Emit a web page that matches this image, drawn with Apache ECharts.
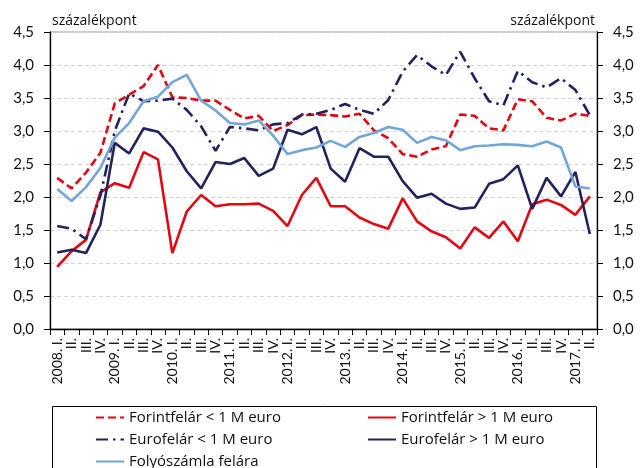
<!DOCTYPE html>
<html>
<head>
<meta charset="utf-8">
<script src="https://cdn.jsdelivr.net/npm/echarts@6/dist/echarts.min.js"></script>
<style>
  html, body { margin: 0; padding: 0; background: #fff; }
  #chart { width: 640px; height: 468px; }
</style>
</head>
<body>
<div id="chart"></div>
<script>
// quarters 2008 I .. 2017 II
const years = [2008, 2009, 2010, 2011, 2012, 2013, 2014, 2015, 2016, 2017];
const quarters = ['I.', 'II.', 'III.', 'IV.'];
let categories = [];
years.forEach(y => {
    quarters.forEach((q, qi) => {
        categories.push(qi == 0 ? y + '. ' + q : q);
    });
});
categories = categories.slice(0, 38);

const forintKicsi = [2.29, 2.13, 2.37, 2.67, 3.42, 3.55, 3.68, 4.00, 3.51, 3.50, 3.46, 3.46, 3.32, 3.19, 3.23, 3.00, 3.09, 3.24, 3.25, 3.24, 3.22, 3.26, 3.01, 2.89, 2.65, 2.61, 2.72, 2.77, 3.25, 3.23, 3.04, 3.01, 3.48, 3.45, 3.20, 3.16, 3.26, 3.23];
const forintNagy = [0.94, 1.18, 1.35, 2.07, 2.21, 2.14, 2.68, 2.57, 1.15, 1.78, 2.03, 1.86, 1.89, 1.89, 1.90, 1.79, 1.56, 2.03, 2.29, 1.86, 1.86, 1.69, 1.59, 1.52, 1.98, 1.63, 1.48, 1.39, 1.22, 1.54, 1.38, 1.63, 1.33, 1.89, 1.96, 1.88, 1.73, 2.01];
const euroKicsi = [1.56, 1.52, 1.36, 2.02, 3.00, 3.57, 3.45, 3.46, 3.49, 3.32, 3.07, 2.70, 3.06, 3.04, 3.01, 3.10, 3.12, 3.25, 3.26, 3.32, 3.41, 3.32, 3.26, 3.47, 3.90, 4.15, 3.98, 3.85, 4.20, 3.80, 3.45, 3.39, 3.91, 3.74, 3.66, 3.80, 3.62, 3.24];
const euroNagy = [1.16, 1.20, 1.15, 1.58, 2.82, 2.66, 3.04, 2.99, 2.75, 2.39, 2.13, 2.53, 2.50, 2.59, 2.32, 2.43, 3.02, 2.95, 3.06, 2.43, 2.23, 2.74, 2.61, 2.61, 2.24, 1.99, 2.05, 1.90, 1.82, 1.84, 2.20, 2.27, 2.48, 1.82, 2.29, 2.01, 2.38, 1.44];
const folyoszamla = [2.12, 1.94, 2.15, 2.44, 2.90, 3.12, 3.45, 3.52, 3.74, 3.85, 3.46, 3.31, 3.12, 3.10, 3.16, 2.93, 2.65, 2.71, 2.75, 2.85, 2.76, 2.91, 2.97, 3.06, 3.02, 2.82, 2.91, 2.86, 2.71, 2.77, 2.78, 2.80, 2.79, 2.77, 2.84, 2.75, 2.16, 2.13];

const names = ['Forintfelár < 1 M euro', 'Forintfelár > 1 M euro', 'Eurofelár < 1 M euro', 'Eurofelár > 1 M euro', 'Folyószámla felára'];

const RED = '#e30613';
const NAVY = '#22225c';
const LIGHT = '#74a5d9';
const FONT = 'Lato';
const TEXTFONT = 'Open Sans';

let chart = echarts.init(document.getElementById('chart'));

function fmt (v) {
    return v.toFixed(1).replace('.', ',');
}

function yAxisCfg (pos) {
    return {
        type: 'value',
        position: pos,
        min: 0,
        max: 4.5,
        interval: 0.5,
        name: 'százalékpont',
        nameLocation: 'end',
        nameGap: 4,
        nameTextStyle: {
            fontFamily: TEXTFONT, fontSize: 14, color: '#111',
            align: pos == 'left' ? 'left' : 'right',
            verticalAlign: 'bottom',
            padding: pos == 'left' ? [0, 0, 0, 2] : [0, 2, 0, 0]
        },
        axisLine: { show: true, lineStyle: { color: '#000', width: 1.3 } },
        axisTick: { show: true, length: 6, lineStyle: { color: '#000' } },
        axisLabel: {
            margin: 16, fontFamily: FONT, fontSize: 15, color: '#111',
            formatter: fmt
        },
        splitLine: pos == 'left'
            ? { show: true, lineStyle: { color: '#d4d4d4', type: [4, 3] } }
            : { show: false }
    };
}

function legendAt (name, left, top) {
    return {
        data: [name],
        left: left,
        top: top,
        padding: 0,
        itemWidth: 28,
        itemHeight: 14,
        itemGap: 0,
        selectedMode: false,
        itemStyle: { opacity: 0 },
        textStyle: { fontFamily: TEXTFONT, fontSize: 15, color: '#111' }
    };
}

function lineSeries (name, data, color, type, yIdx) {
    return {
        name: name,
        type: 'line',
        data: data,
        symbol: 'none',
        showSymbol: false,
        yAxisIndex: yIdx,
        lineStyle: { color: color, width: 2.6, type: type },
        itemStyle: { color: color },
        z: 3
    };
}

chart.setOption({
    animation: false,
    grid: {
        left: 50, right: 43, top: 32, bottom: 139,
        show: true, borderColor: '#9a9a9a', borderWidth: 1
    },
    legend: [
        legendAt(names[0], 95, 410),
        legendAt(names[1], 367, 410),
        legendAt(names[2], 95, 432),
        legendAt(names[3], 367, 432),
        legendAt(names[4], 95, 454)
    ],
    graphic: [{
        type: 'rect',
        shape: { x: 52.5, y: 406.5, width: 544, height: 80 },
        style: { fill: 'none', stroke: '#000', lineWidth: 1 },
        silent: true
    }],
    xAxis: {
        type: 'category',
        data: categories,
        boundaryGap: true,
        axisLine: { lineStyle: { color: '#000', width: 1.3 } },
        axisTick: { show: true, interval: 0, length: 6, lineStyle: { color: '#000' } },
        axisLabel: {
            interval: 0, rotate: 90, margin: 9,
            fontFamily: FONT, fontSize: 14, color: '#111'
        },
        splitLine: { show: false }
    },
    yAxis: [yAxisCfg('left'), yAxisCfg('right')],
    series: [
        lineSeries(names[0], forintKicsi, RED, [8, 4], 0),
        lineSeries(names[1], forintNagy, RED, 'solid', 0),
        lineSeries(names[2], euroKicsi, NAVY, [12, 5, 2.5, 5], 0),
        lineSeries(names[3], euroNagy, NAVY, 'solid', 0),
        lineSeries(names[4], folyoszamla, LIGHT, 'solid', 0)
    ]
});
</script>
</body>
</html>
